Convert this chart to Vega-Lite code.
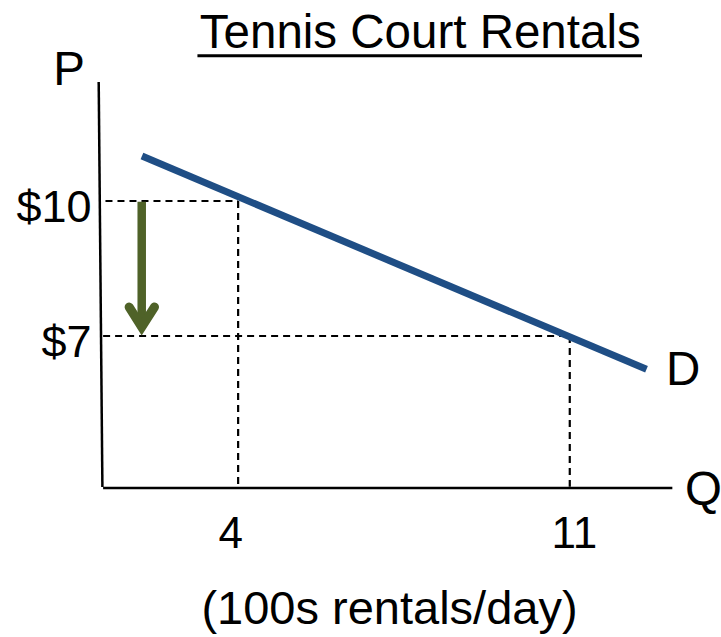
{
  "$schema": "https://vega.github.io/schema/vega-lite/v6.json",
  "width": 578,
  "height": 405,
  "autosize": "none",
  "padding": {"left": 96, "top": 84, "right": 47, "bottom": 148},
  "background": "white",
  "config": {"view": {"stroke": null}, "font": "Liberation Sans"},
  "datasets": {
    "axes": [
      {"name": "P axis", "q": 1.057, "p": 12.644, "q2": 1.135, "p2": 3.644},
      {"name": "Q axis", "q": 1.15, "p": 3.622, "q2": 13.165, "p2": 3.622}
    ],
    "guides": [
      {"name": "P=10", "q": 1.2, "p": 10, "q2": 4, "p2": 10},
      {"name": "Q=4", "q": 4, "p": 10, "q2": 4, "p2": 3.622},
      {"name": "P=7", "q": 1.15, "p": 7, "q2": 11, "p2": 7},
      {"name": "Q=11", "q": 11, "p": 7, "q2": 11, "p2": 3.65}
    ],
    "demand": [
      {"name": "D", "q": 1.97, "p": 11.0, "q2": 12.62, "p2": 6.26}
    ],
    "shaft": [
      {"name": "price drop", "q": 1.965, "p": 9.984, "q2": 1.965, "p2": 7.2}
    ],
    "head": [
      {"i": 0, "q": 1.699, "p": 7.644},
      {"i": 1, "q": 1.965, "p": 7.2},
      {"i": 2, "q": 2.235, "p": 7.644}
    ],
    "underline": [
      {"q": 3.141, "p": 13.229, "q2": 12.525, "p2": 13.229}
    ],
    "labels": [
      {"text": "Tennis Court Rentals", "q": 7.844, "p": 13.407},
      {"text": "P", "q": 0.432, "p": 12.578},
      {"text": "D", "q": 13.391, "p": 5.911},
      {"text": "Q", "q": 13.82, "p": 3.244}
    ]
  },
  "encoding": {
    "x": {
      "field": "q",
      "type": "quantitative",
      "scale": {"domain": [1, 13.2], "nice": false, "zero": false},
      "axis": {
        "values": [4, 11],
        "domain": false,
        "ticks": false,
        "tickSize": 0,
        "grid": false,
        "labelFontSize": 44,
        "labelColor": "black",
        "labelBaseline": "alphabetic",
        "labelPadding": 58,
        "labelOffset": {"condition": {"test": "datum.value == 4", "value": -8}, "value": 4},
        "title": "(100s rentals/day)",
        "titleFontSize": 47,
        "titleFontWeight": "normal",
        "titleColor": "black",
        "titleBaseline": "alphabetic",
        "titleAlign": "center",
        "titleAnchor": "start",
        "titleX": 293,
        "titleY": 134
      }
    },
    "y": {
      "field": "p",
      "type": "quantitative",
      "scale": {"domain": [3.6, 12.6], "nice": false, "zero": false},
      "axis": {
        "values": [7, 10],
        "labelExpr": "'$' + datum.value",
        "domain": false,
        "ticks": false,
        "tickSize": 0,
        "grid": false,
        "labelFontSize": 45,
        "labelColor": "black",
        "labelAlign": "right",
        "labelBaseline": "alphabetic",
        "labelPadding": 5,
        "labelOffset": 20,
        "title": null
      }
    }
  },
  "layer": [
    {
      "data": {"name": "guides"},
      "mark": {"type": "rule", "color": "black", "strokeWidth": 2.2, "strokeDash": [7, 5]},
      "encoding": {"x2": {"field": "q2"}, "y2": {"field": "p2"}}
    },
    {
      "data": {"name": "axes"},
      "mark": {"type": "rule", "color": "black", "strokeWidth": 2.5},
      "encoding": {"x2": {"field": "q2"}, "y2": {"field": "p2"}}
    },
    {
      "data": {"name": "demand"},
      "mark": {"type": "rule", "color": "#1f4e85", "strokeWidth": 7, "strokeCap": "butt"},
      "encoding": {"x2": {"field": "q2"}, "y2": {"field": "p2"}}
    },
    {
      "data": {"name": "shaft"},
      "mark": {"type": "rule", "color": "#4f6228", "strokeWidth": 8.5, "strokeCap": "butt"},
      "encoding": {"x2": {"field": "q2"}, "y2": {"field": "p2"}}
    },
    {
      "data": {"name": "head"},
      "mark": {"type": "line", "color": "#4f6228", "strokeWidth": 9, "strokeCap": "round", "strokeJoin": "miter"},
      "encoding": {"order": {"field": "i", "type": "ordinal"}}
    },
    {
      "data": {"name": "underline"},
      "mark": {"type": "rule", "color": "black", "strokeWidth": 3},
      "encoding": {"x2": {"field": "q2"}, "y2": {"field": "p2"}}
    },
    {
      "data": {"name": "labels"},
      "mark": {"type": "text", "fontSize": 47.5, "color": "black", "align": "center", "baseline": "alphabetic", "font": "Liberation Sans"},
      "encoding": {"text": {"field": "text", "type": "nominal"}}
    }
  ]
}
